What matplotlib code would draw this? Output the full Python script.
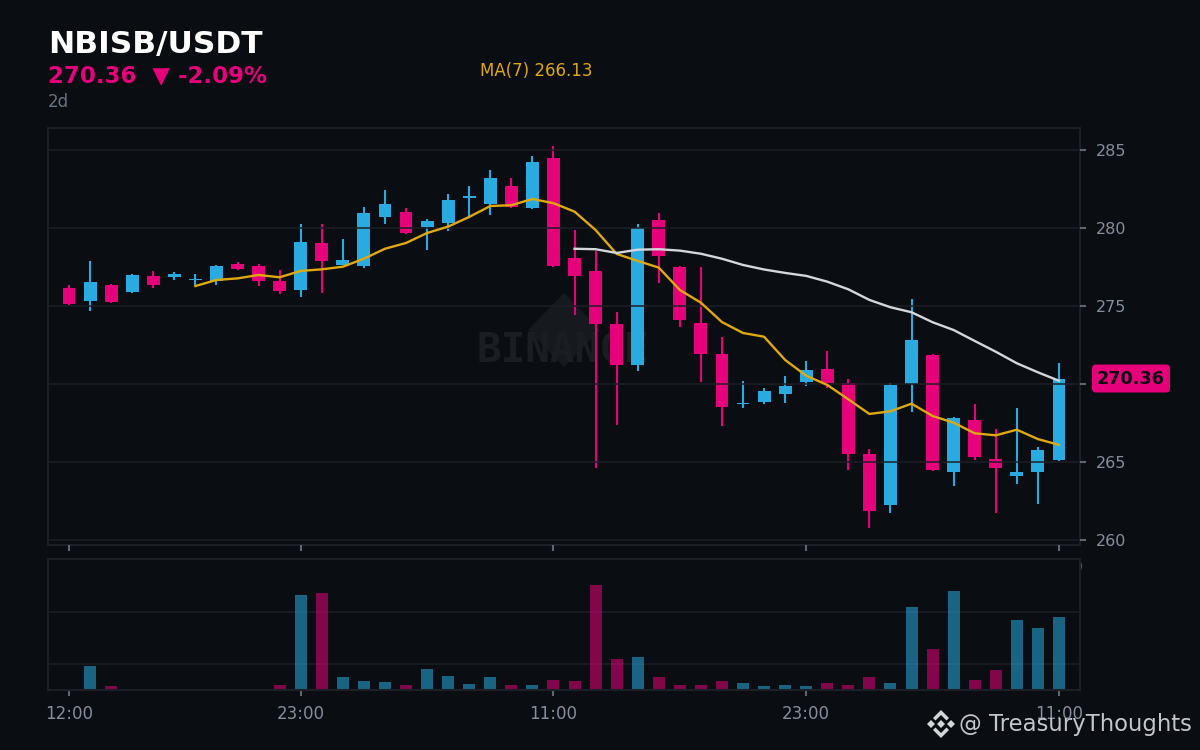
import numpy as np
import matplotlib
matplotlib.use('Agg')
import matplotlib.pyplot as plt
from matplotlib.patches import FancyBboxPatch, Polygon
from matplotlib.transforms import Bbox

# OHLC
opens = [276.19, 275.35, 276.38, 275.93, 276.96, 276.89, 276.70, 276.63, 277.72, 277.60,
         276.63, 276.06, 279.07, 277.66, 277.60, 280.74, 281.06, 280.10, 280.35, 281.96,
         281.57, 282.72, 281.31, 284.52, 278.11, 277.28, 273.88, 271.25, 280.54, 277.53,
         273.94, 271.96, 268.75, 268.88, 269.39, 270.16, 271.00, 270.10, 265.55, 262.28,
         270.03, 271.89, 264.39, 267.72, 265.22, 264.13, 264.39, 265.17]
closes = [275.16, 276.57, 275.29, 277.02, 276.38, 277.08, 276.76, 277.60, 277.40, 276.63,
          275.99, 279.13, 277.92, 277.98, 281.00, 281.57, 279.71, 280.48, 281.83, 282.08,
          283.24, 281.38, 284.26, 277.60, 276.96, 273.88, 271.25, 280.03, 278.24, 274.13,
          271.96, 268.56, 268.81, 269.58, 269.90, 270.93, 270.10, 265.55, 261.89, 269.97,
          272.85, 264.52, 267.85, 265.35, 264.65, 264.39, 265.80, 270.35]
highs = [276.38, 277.92, 276.44, 277.08, 277.28, 277.21, 277.08, 277.66, 277.85, 277.72,
         277.34, 280.29, 280.29, 279.33, 281.38, 282.47, 281.31, 280.61, 282.21, 282.72,
         283.75, 283.24, 284.65, 285.29, 279.90, 278.56, 274.65, 280.29, 281.00, 277.60,
         277.53, 273.04, 270.22, 269.78, 270.54, 271.51, 272.15, 270.35, 265.87, 270.10,
         275.48, 271.96, 267.92, 268.75, 267.15, 268.49, 266.00, 271.38]
lows = [275.10, 274.71, 275.22, 275.87, 276.19, 276.70, 276.31, 276.38, 277.34, 276.31,
        275.80, 275.61, 275.87, 277.66, 277.47, 280.29, 279.65, 278.62, 279.84, 280.67,
        280.87, 281.31, 281.25, 277.53, 274.46, 264.65, 267.40, 270.87, 276.51, 273.69,
        270.16, 267.34, 268.49, 268.75, 268.81, 269.90, 269.78, 264.52, 260.80, 261.76,
        268.24, 264.46, 263.49, 265.16, 261.76, 263.62, 262.34, 265.10]
volumes = [12, 938, 166, 50, 19, 19, 19, 19, 15, 50, 205, 3640, 3717, 513, 359, 320,
           205, 822, 552, 243, 513, 205, 205, 398, 359, 4026, 1170, 1247, 513, 205, 205, 359,
           282, 166, 205, 166, 282, 205, 513, 282, 3177, 1556, 3794, 398, 784, 2675, 2366, 2791]
# moving averages, first value sits at candle 6 and candle 24
ma7 = [276.31, 276.70, 276.80, 277.02, 276.87, 277.28, 277.38, 277.55, 278.06, 278.70,
       279.07, 279.71, 280.12, 280.74, 281.44, 281.49, 281.89, 281.62, 281.08, 279.90,
       278.37, 277.92, 277.49, 276.06, 275.24, 274.00, 273.30, 273.06, 271.57, 270.56,
       269.97, 269.05, 268.11, 268.28, 268.77, 267.98, 267.55, 266.87, 266.74, 267.10,
       266.50, 266.13]
ma25 = [278.70, 278.67, 278.43, 278.64, 278.67, 278.58, 278.38, 278.06, 277.66, 277.37,
        277.15, 276.96, 276.59, 276.10, 275.42, 274.95, 274.63, 273.99, 273.49, 272.79,
        272.10, 271.36, 270.78, 270.24]
tick_pos = [0, 11, 23, 35, 47]
tick_labels = ['12:00', '23:00', '11:00', '23:00', '11:00']
price_ticks = [260, 265, 270, 275, 280, 285]
price_labels = ['260', '265', '', '275', '280', '285']  # 270 sits under the price badge

BG = '#0a0e12'
UP = '#29abe2'
DOWN = '#e6007a'
GRID = '#1c2026'
GREY = '#848e9c'
GOLD = '#e0a80f'

opens, closes, highs, lows = map(np.array, (opens, closes, highs, lows))
volumes = np.array(volumes)
x = np.arange(len(opens))
colors = [UP if c >= o else DOWN for o, c in zip(opens, closes)]


def axes_box(left, top, right, bottom):
    return [left / 1200, 1 - bottom / 750, (right - left) / 1200, (bottom - top) / 750]


fig = plt.figure(figsize=(12, 7.5), dpi=100, facecolor=BG)

# pixel-space layers for the watermark (behind) and header/badge/logo (in front)
back = fig.add_axes([0, 0, 1, 1], zorder=0)
back.set_xlim(0, 1200)
back.set_ylim(750, 0)
back.axis('off')
back.add_patch(Polygon([(564, 293), (600, 330), (564, 367), (528, 330)], fc='#16191e', ec='none'))
back.text(563, 351, 'BINANCE', color='#1a1d21', family='DejaVu Sans Mono', weight='bold',
          fontsize=29.5, ha='center', va='center')

ax = fig.add_axes(axes_box(48, 128, 1080, 545), zorder=1, facecolor='none')
vol = fig.add_axes(axes_box(48, 559, 1080, 690), zorder=1, facecolor='none')

# candles
ax.vlines(x, lows, highs, colors=colors, lw=1.5, zorder=1)
ax.bar(x, np.maximum(np.abs(closes - opens), 0.06), bottom=np.minimum(opens, closes),
       width=0.61, color=colors, zorder=1.5)
ax.grid(axis='y', color=GRID, lw=1.1, zorder=2)
ax.set_axisbelow(False)
ax.xaxis.grid(False)
ax.plot(x[6:], ma7, color=GOLD, lw=1.7, zorder=3)
ax.plot(x[24:], ma25, color='#d4d6da', lw=1.7, zorder=3)
ax.set_xlim(-1, 48)
ax.set_ylim(259.71, 286.44)
ax.set_yticks(price_ticks)
ax.set_yticklabels(price_labels)
ax.yaxis.tick_right()
ax.set_xticks(tick_pos)
ax.tick_params(axis='x', labelbottom=False, length=4.5, width=1.5, color='#5d6570')
ax.tick_params(axis='y', length=4.5, width=1.5, color='#5d6570', labelcolor=GREY,
               labelsize=11.5, pad=7)

# volume
vol.bar(x, volumes, width=0.57, color=colors, alpha=0.55, zorder=2)
vol.set_xlim(-1, 48)
vol.set_ylim(0, 5020)
vol.set_yticks([1000, 3000])
vol.grid(axis='y', color=GRID, lw=1.1, zorder=1)
vol.set_axisbelow(True)
vol.tick_params(axis='y', length=0, labelleft=False, labelright=False)
vol.set_xticks(tick_pos)
vol.set_xticklabels(tick_labels)
vol.tick_params(axis='x', length=4.5, width=1.5, color='#5d6570', labelcolor=GREY,
                labelsize=12, pad=6)

for a in (ax, vol):
    for s in a.spines.values():
        s.set_color(GRID)
        s.set_linewidth(1.5)

front = fig.add_axes([0, 0, 1, 1], zorder=2, facecolor='none')
front.set_xlim(0, 1200)
front.set_ylim(750, 0)
front.axis('off')

front.text(48.5, 44, 'NBISB/USDT', color='white', weight='bold', fontsize=22.5, va='center')
front.text(48, 76, '270.36  ▼ -2.09%', color=DOWN, weight='bold', fontsize=16.5, va='center')
front.text(48, 102, '2d', color='#6b7280', fontsize=12, va='center')
front.text(480, 71, 'MA(7) 266.13', color=GOLD, fontsize=12, va='center')

# last price badge
front.add_patch(FancyBboxPatch((1092, 364.5), 78, 28, boxstyle='round,pad=0,rounding_size=4',
                               fc=DOWN, ec='none'))
front.text(1131, 378.5, '270.36', color='#0a0e12', weight='bold', fontsize=12.7,
           ha='center', va='center')

# sliver of a hidden zero just right of the volume panel
zero = front.text(1078, 568, '0', color=GREY, fontsize=11, ha='center', va='center')
zero.set_clip_box(Bbox([[1080.5, 750 - 580], [1090, 750 - 555]]))
zero.set_clip_on(True)

# logo + handle
lc = '#d5d6d8'
cx, cy = 941, 724
for poly in (
    [(cx, cy - 4), (cx + 4, cy), (cx, cy + 4), (cx - 4, cy)],
    [(cx - 10, cy - 4), (cx - 6, cy), (cx - 10, cy + 4), (cx - 14, cy)],
    [(cx + 10, cy - 4), (cx + 14, cy), (cx + 10, cy + 4), (cx + 6, cy)],
    [(cx, cy - 14), (cx + 8, cy - 6), (cx + 5.5, cy - 3.5), (cx, cy - 9), (cx - 5.5, cy - 3.5), (cx - 8, cy - 6)],
    [(cx, cy + 14), (cx + 8, cy + 6), (cx + 5.5, cy + 3.5), (cx, cy + 9), (cx - 5.5, cy + 3.5), (cx - 8, cy + 6)],
):
    front.add_patch(Polygon(poly, fc=lc, ec='none'))
front.text(959, 725, '@ TreasuryThoughts', color='#c4c6ca', fontsize=16.4, va='center')

fig.savefig('out.png', dpi=100, facecolor=BG)
